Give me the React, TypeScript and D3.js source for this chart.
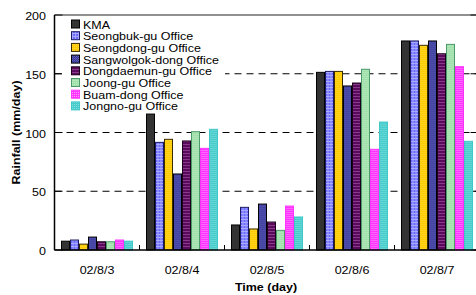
import React from "react";
import * as d3 from "d3";

const dates = ["02/8/3", "02/8/4", "02/8/5", "02/8/6", "02/8/7"];
const seriesNames = [
  "KMA",
  "Seongbuk-gu Office",
  "Seongdong-gu Office",
  "Sangwolgok-dong Office",
  "Dongdaemun-gu Office",
  "Joong-gu Office",
  "Buam-dong Office",
  "Jongno-gu Office",
];
const kma = [7.5, 115.7, 21.3, 151.2, 177.9];
const seongbuk = [8.5, 91.6, 36.3, 152, 177.9];
const seongdong = [5, 94.2, 17.9, 152, 174.2];
const sangwolgok = [11, 64.7, 39.1, 139.6, 177.9];
const dongdaemun = [7, 92.8, 23.8, 142.1, 167];
const joong = [7, 100.7, 16.7, 153.8, 175];
const buam = [8.5, 86.5, 37.4, 85.7, 156];
const jongno = [7.5, 102.7, 28.1, 108.9, 92.5];
const seriesValues = [kma, seongbuk, seongdong, sangwolgok, dongdaemun, joong, buam, jongno];
const yTicks = [0, 50, 100, 150, 200];

const strokes = ["#000", "#1a1a60", "#3a2a00", "#000", "#1a001a", "#4a9a6a", "#ff33ff", "#40c8c8"];

const FONT = "'Liberation Sans', Arial, Helvetica, sans-serif";

function T(props: { x: number; y: number; anchor?: string; bold?: boolean; rotate?: number; children: React.ReactNode }) {
  const { x, y, anchor = "start", bold = false, rotate = 0, children } = props;
  return (
    <text
      transform={`translate(${x},${y}) rotate(${rotate}) scale(1,0.88)`}
      textAnchor={anchor}
      fontFamily={FONT}
      fontSize={12.5}
      fontWeight={bold ? "bold" : "normal"}
      fill="#000"
    >
      {children}
    </text>
  );
}

export default function App() {
  const width = 476;
  const height = 295;
  const left = 54.5;
  const right = 479.5;
  const top = 15;
  const bottom = 250;

  const x0 = d3.scaleBand<string>().domain(dates).range([left, right]).padding(0);
  const x1 = d3
    .scaleBand<string>()
    .domain(seriesNames)
    .range([6.5, x0.bandwidth() - 6.5])
    .padding(0);
  const y = d3.scaleLinear().domain([0, 200]).range([bottom, top]);

  const boundaries = dates.slice(1).map((d) => x0(d)!);

  return (
    <svg width={width} height={height} style={{ position: "absolute", left: 0, top: 0 }}>
      <defs>
        <pattern id="p1" width="3" height="3" patternUnits="userSpaceOnUse">
          <rect width="3" height="3" fill="#6a6aff" />
          <rect width="3" height="1" fill="#a8a8ff" />
          <rect width="1" height="3" fill="#a8a8ff" />
        </pattern>
        <pattern id="p2" width="2" height="2" patternUnits="userSpaceOnUse">
          <rect width="2" height="2" fill="#ffcc00" />
          <rect width="1" height="1" fill="#ffd840" />
        </pattern>
        <pattern id="p3" width="2" height="2" patternUnits="userSpaceOnUse">
          <rect width="2" height="2" fill="#333399" />
          <rect width="1" height="1" fill="#6666bb" />
          <rect x="1" y="1" width="1" height="1" fill="#5555aa" />
        </pattern>
        <pattern id="p4" width="3" height="3" patternUnits="userSpaceOnUse">
          <rect width="3" height="3" fill="#5a0a5a" />
          <rect width="3" height="1" fill="#8a3a8a" />
        </pattern>
        <pattern id="p5" width="2" height="2" patternUnits="userSpaceOnUse">
          <rect width="2" height="2" fill="#a0e0aa" />
          <rect width="1" height="1" fill="#c0ecc4" />
        </pattern>
        <pattern id="p6" width="2" height="2" patternUnits="userSpaceOnUse">
          <rect width="2" height="2" fill="#ff33ff" />
          <rect width="1" height="1" fill="#ff99ff" />
        </pattern>
        <pattern id="p7" width="2" height="2" patternUnits="userSpaceOnUse">
          <rect width="2" height="2" fill="#48cccc" />
          <rect width="1" height="1" fill="#80dddd" />
        </pattern>
      </defs>

      {/* grid lines */}
      {yTicks
        .filter((t) => t > 0 && t < 200)
        .map((t) => (
          <line
            key={"g" + t}
            x1={left}
            x2={right}
            y1={y(t)}
            y2={y(t)}
            stroke="#000"
            strokeWidth={1}
            strokeDasharray="7,5"
          />
        ))}
      {yTicks.map((t) => (
        <g key={"t" + t}>
          <line x1={left} x2={left + 8} y1={y(t)} y2={y(t)} stroke="#000" />
          <line x1={right - 9} x2={right} y1={y(t)} y2={y(t)} stroke="#000" />
        </g>
      ))}

      {/* legend background */}
      <rect x={62} y={17} width={163} height={94} fill="#fff" />

      {/* bars */}
      {dates.map((d, i) => (
        <g key={d} transform={`translate(${x0(d)},0)`}>
          {seriesNames.map((s, k) => (
            <rect
              key={s}
              x={x1(s)! + 0.5}
              y={y(seriesValues[k][i])}
              width={x1.bandwidth() - 1}
              height={y(0) - y(seriesValues[k][i])}
              fill={k === 0 ? "#333333" : `url(#p${k})`}
              stroke={strokes[k]}
              strokeWidth={1}
            />
          ))}
        </g>
      ))}

      {/* frame */}
      <line x1={left} x2={right} y1={top} y2={top} stroke="#222" strokeWidth={1.2} />
      <line x1={left} x2={left} y1={top} y2={bottom} stroke="#000" strokeWidth={1.5} />
      <line x1={left} x2={right} y1={bottom} y2={bottom} stroke="#000" strokeWidth={1.5} />
      {boundaries.map((b, i) => (
        <line key={"b" + i} x1={b} x2={b} y1={bottom} y2={bottom - 5} stroke="#000" />
      ))}

      {/* y tick labels */}
      {yTicks.map((t) => (
        <T key={"yl" + t} x={46} y={y(t) + 5} anchor="end">
          {t}
        </T>
      ))}

      {/* x tick labels */}
      {dates.map((d) => (
        <T key={"xl" + d} x={x0(d)! + x0.bandwidth() / 2} y={274} anchor="middle">
          {d}
        </T>
      ))}

      {/* axis titles */}
      <T x={266} y={291} anchor="middle" bold>
        Time (day)
      </T>
      <T x={20} y={(top + bottom) / 2} anchor="middle" bold rotate={-90}>
        Rainfall (mm/day)
      </T>

      {/* legend */}
      {seriesNames.map((s, k) => {
        const cy = 24 + k * 11.7;
        return (
          <g key={"lg" + s}>
            <rect
              x={71.5}
              y={cy - 4}
              width={8}
              height={8}
              fill={k === 0 ? "#333333" : `url(#p${k})`}
              stroke={strokes[k]}
              strokeWidth={1}
            />
            <T x={83} y={cy + 4.5}>
              {s}
            </T>
          </g>
        );
      })}
    </svg>
  );
}
